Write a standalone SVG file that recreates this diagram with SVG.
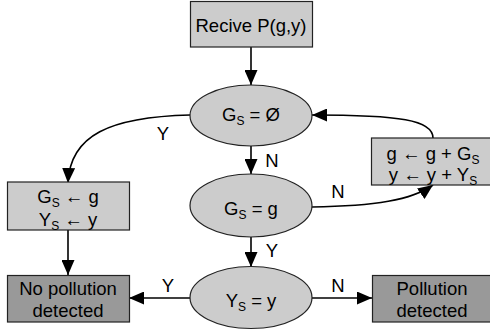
<svg xmlns="http://www.w3.org/2000/svg" width="490" height="332" viewBox="0 0 490 332">
<defs>
<style>
text{font-family:"Liberation Sans",Arial,sans-serif;font-size:18.5px;fill:#000;text-anchor:middle}
.lt{fill:#cccccc;stroke:#222;stroke-width:1.2}
.dk{fill:#999999;stroke:#222;stroke-width:1.2}
.c{fill:none;stroke:#000;stroke-width:1.6;marker-end:url(#ah)}
.sub{font-size:12px}
</style>
<marker id="ah" markerUnits="userSpaceOnUse" markerWidth="15" markerHeight="13" refX="15" refY="6.5" orient="auto">
<path d="M0,0 L15,6.5 L0,13 z" fill="#000"/>
</marker>
</defs>
<rect width="490" height="332" fill="#fff"/>
<g id="connectors">
<path class="c" d="M251,47 L251,85"/>
<path class="c" d="M251,146 L251,174"/>
<path class="c" d="M251,237 L251,267"/>
<path class="c" d="M190,115 C110,117 70,135 68,183"/>
<path class="c" d="M433,138 C433,120 400,115 312,115"/>
<path class="c" d="M312,207 C375,206 412,200 433,185"/>
<path class="c" d="M68,230 L68,275"/>
<path class="c" d="M190,298 L129,298"/>
<path class="c" d="M312,298 L372,298"/>
<text x="163" y="140">Y</text>
<text x="272" y="167">N</text>
<text x="338" y="198">N</text>
<text x="272" y="257">Y</text>
<text x="168" y="292">Y</text>
<text x="338" y="292">N</text>
</g>
<g id="receive">
<rect class="lt" x="190.5" y="1.5" width="122" height="45.5"/>
<text x="251" y="31.5">Recive P(g,y)</text>
</g>
<g id="gs-empty">
<ellipse class="lt" cx="251" cy="115.5" rx="61" ry="30.5"/>
<text x="251" y="120.5">G<tspan class="sub" dy="4">S</tspan><tspan dy="-4"> = Ø</tspan></text>
</g>
<g id="gs-eq-g">
<ellipse class="lt" cx="251" cy="205.5" rx="61" ry="31.5"/>
<text x="251" y="215">G<tspan class="sub" dy="4">S</tspan><tspan dy="-4"> = g</tspan></text>
</g>
<g id="ys-eq-y">
<ellipse class="lt" cx="251" cy="297.5" rx="61" ry="31"/>
<text x="251" y="307">Y<tspan class="sub" dy="4">S</tspan><tspan dy="-4"> = y</tspan></text>
</g>
<g id="assign">
<rect class="lt" x="7.5" y="182" width="122" height="48"/>
<text x="68" y="203">G<tspan class="sub" dy="4">S</tspan><tspan dy="-4"> ← g</tspan></text>
<text x="68" y="226">Y<tspan class="sub" dy="4">S</tspan><tspan dy="-4"> ← y</tspan></text>
</g>
<g id="update">
<rect class="lt" x="371.5" y="138" width="125" height="47"/>
<text x="433" y="159.5">g ← g + G<tspan class="sub" dy="4">S</tspan></text>
<text x="433" y="180.5">y ← y + Y<tspan class="sub" dy="4">S</tspan></text>
</g>
<g id="no-pollution">
<rect class="dk" x="7.5" y="275.5" width="122" height="46.5"/>
<text x="68" y="295">No pollution</text>
<text x="68" y="317">detected</text>
</g>
<g id="pollution">
<rect class="dk" x="372.5" y="275.5" width="125" height="46.5"/>
<text x="432" y="295">Pollution</text>
<text x="432" y="317">detected</text>
</g>
</svg>
